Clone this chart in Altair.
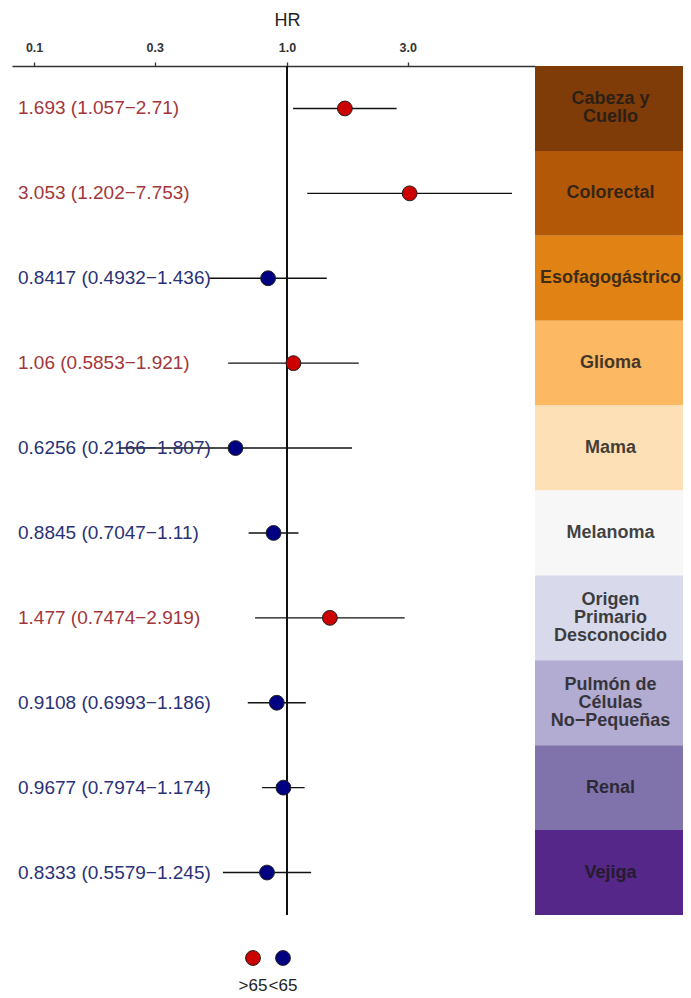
import altair as alt
import pandas as pd

categories = ["Cabeza y Cuello", "Colorectal", "Esofagogástrico", "Glioma", "Mama",
              "Melanoma", "Origen Primario Desconocido", "Pulmón de Células No−Pequeñas",
              "Renal", "Vejiga"]
band_labels = ["Cabeza y\nCuello", "Colorectal", "Esofagogástrico", "Glioma", "Mama",
               "Melanoma", "Origen\nPrimario\nDesconocido", "Pulmón de\nCélulas\nNo−Pequeñas",
               "Renal", "Vejiga"]
hr = [1.693, 3.053, 0.8417, 1.06, 0.6256, 0.8845, 1.477, 0.9108, 0.9677, 0.8333]
hr_low = [1.057, 1.202, 0.4932, 0.5853, 0.2166, 0.7047, 0.7474, 0.6993, 0.7974, 0.5579]
hr_high = [2.71, 7.753, 1.436, 1.921, 1.807, 1.11, 2.919, 1.186, 1.174, 1.245]
age_group = [">65", ">65", "<65", ">65", "<65", "<65", ">65", "<65", "<65", "<65"]
hr_labels = ["1.693 (1.057−2.71)", "3.053 (1.202−7.753)", "0.8417 (0.4932−1.436)",
             "1.06 (0.5853−1.921)", "0.6256 (0.2166−1.807)", "0.8845 (0.7047−1.11)",
             "1.477 (0.7474−2.919)", "0.9108 (0.6993−1.186)", "0.9677 (0.7974−1.174)",
             "0.8333 (0.5579−1.245)"]

groups = [">65", "<65"]
group_point_colors = ["#cc0000", "#000080"]
group_text_colors = ["#a3363b", "#2a3175"]
band_colors = ["#7f3b08", "#b35806", "#e08214", "#fdb863", "#fee0b6", "#f7f7f7",
               "#d8daeb", "#b2abd2", "#8073ac", "#542788"]
x_ticks = [0.1, 0.3, 1.0, 3.0]
x_domain = [0.0818, 9.555]

df = pd.DataFrame({
    "cat": categories, "band_label": band_labels, "hr": hr, "lo": hr_low, "hi": hr_high,
    "group": age_group, "label": hr_labels,
})
df["nlines"] = [s.count("\n") + 1 for s in band_labels]
legend_df = pd.DataFrame({"group": groups, "idx": list(range(len(groups)))})

W_LEFT = 523
W_RIGHT = 148
H = 849
LH = 18

band_scale = alt.Scale(domain=categories, paddingInner=0, paddingOuter=0)
ycat = alt.Y("cat:N", sort=categories, scale=band_scale, axis=None, bandPosition=0.5)
xs = alt.Scale(type="log", domain=x_domain, nice=False, zero=False)

base = alt.Chart(df)

ci = base.mark_rule(color="#111111", strokeWidth=1.4).encode(
    x=alt.X("lo:Q", scale=xs,
            axis=alt.Axis(orient="top", values=x_ticks, format=".1f", title="HR",
                          labelFontSize=12.5, labelFontWeight="bold", labelColor="#333333",
                          labelFont="Liberation Sans", titleFont="Liberation Sans",
                          titleFontSize=18, titleFontWeight="normal", titleColor="#222222",
                          titleX=275, titleY=-46, titleBaseline="middle", titleAlign="center",
                          tickSize=4, tickColor="#333333", tickWidth=1.3,
                          domainColor="#333333", domainWidth=1.6, labelPadding=8,
                          grid=False, labelFlush=False)),
    x2="hi:Q",
    y=ycat,
)

vline = alt.Chart(df).mark_rule(color="#111111", strokeWidth=1.6).encode(
    x=alt.datum(1.0, scale=xs)
)

pts = base.mark_circle(size=220, opacity=1, stroke="#222222", strokeWidth=1).encode(
    x=alt.X("hr:Q", scale=xs),
    y=ycat,
    fill=alt.Fill("group:N", scale=alt.Scale(domain=groups, range=group_point_colors), legend=None),
)

txt = base.mark_text(align="left", baseline="middle", fontSize=19,
                     font="Liberation Sans").encode(
    x=alt.value(6),
    y=ycat,
    text="label:N",
    color=alt.Color("group:N", scale=alt.Scale(domain=groups, range=group_text_colors), legend=None),
)

left = alt.layer(ci, vline, pts, txt).resolve_scale(color="independent", fill="independent").properties(
    width=W_LEFT, height=H)

bands = alt.Chart(df).mark_rect().encode(
    y=alt.Y("cat:N", sort=categories, scale=band_scale, axis=None),
    color=alt.Color("cat:N", scale=alt.Scale(domain=categories, range=band_colors), legend=None),
)

band_text_layers = []
for n in sorted(set(df["nlines"])):
    band_text_layers.append(
        alt.Chart(df).transform_filter(alt.datum.nlines == n).mark_text(
            fontSize=18, fontWeight="bold", font="Liberation Sans",
            color="#1a1a1a", opacity=0.82, lineBreak="\n", lineHeight=LH,
            baseline="middle", align="center", dy=-(n - 1) * LH / 2).encode(
            y=ycat,
            x=alt.value(75.5),
            text="band_label:N",
        )
    )
right = alt.layer(bands, *band_text_layers).properties(width=W_RIGHT, height=H)

top = alt.hconcat(left, right, spacing=0).resolve_scale(
    x="independent", y="independent", color="independent", fill="independent")

LEG_W = 512
lx = alt.X("idx:Q", scale=alt.Scale(domain=[-241 / 30, (LEG_W - 241) / 30], nice=False, zero=False),
           axis=None)
leg_pts = alt.Chart(legend_df).mark_circle(size=220, opacity=1, stroke="#222222",
                                           strokeWidth=1).encode(
    x=lx, y=alt.value(22),
    fill=alt.Fill("group:N", scale=alt.Scale(domain=groups, range=group_point_colors), legend=None),
)
leg_txt = alt.Chart(legend_df).mark_text(fontSize=17, font="Liberation Sans", color="#222222",
                                         baseline="middle").encode(
    x=lx, y=alt.value(50), text="group:N",
)
legend = alt.layer(leg_pts, leg_txt).properties(width=LEG_W, height=55)

chart = alt.vconcat(top, legend, spacing=20).resolve_scale(
    x="independent", y="independent", color="independent", fill="independent"
).properties(
    padding={"left": 4, "top": 3, "right": 0, "bottom": 0}
).configure_view(strokeWidth=0, stroke="transparent")

chart.save("out.html", embed_options={"renderer": "svg", "actions": False})
